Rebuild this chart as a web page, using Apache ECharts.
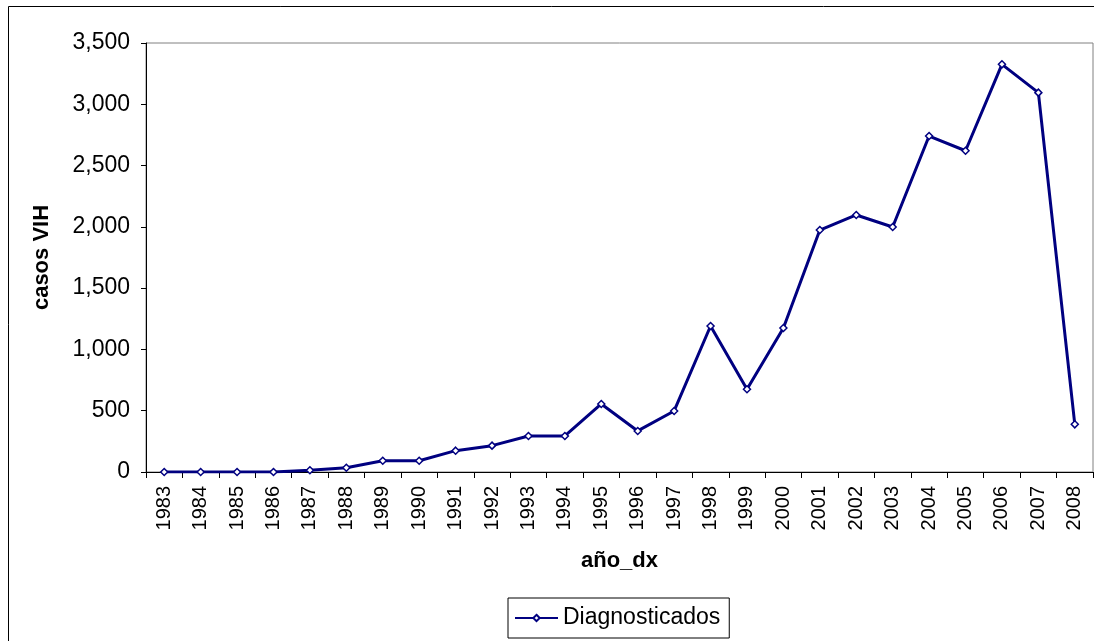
<!DOCTYPE html>
<html>
<head>
<meta charset="utf-8">
<script src="https://cdn.jsdelivr.net/npm/echarts@6/dist/echarts.min.js"></script>
<style>
  html, body { margin: 0; padding: 0; background: #fff; }
</style>
</head>
<body>
<div id="chart" style="width: 1094px; height: 641px;"></div>
<script>
// años de diagnostico
var years = ['1983', '1984', '1985', '1986', '1987', '1988', '1989', '1990', '1991', '1992',
  '1993', '1994', '1995', '1996', '1997', '1998', '1999', '2000', '2001', '2002',
  '2003', '2004', '2005', '2006', '2007', '2008'];
// casos VIH diagnosticados
var diagnosticados = [0, 0, 0, 0, 14, 35, 92, 92, 174, 215,
  294, 294, 555, 335, 498, 1191, 675, 1175, 1974, 2097,
  1999, 2741, 2621, 3326, 3095, 389];

var chart = echarts.init(document.getElementById('chart'));
var font = 'Liberation Sans, Arial, sans-serif';

chart.setOption({
  animation: false,
  backgroundColor: '#fff',
  graphic: [{
    type: 'rect',
    shape: { x: 8.5, y: 6.5, width: 1200, height: 700 },
    style: { fill: 'none', stroke: '#000', lineWidth: 1 },
    silent: true
  }],
  grid: {
    left: 146,
    right: 1,
    top: 43,
    bottom: 169,
    show: true,
    borderColor: '#808080',
    borderWidth: 1
  },
  legend: {
    left: 508,
    top: 598,
    padding: [8, 9, 8, 6],
    borderColor: '#000',
    borderWidth: 1,
    borderRadius: 0,
    itemWidth: 43,
    itemHeight: 8,
    itemGap: 6,
    textStyle: { fontFamily: font, fontSize: 23, lineHeight: 24, color: '#000' },
    data: ['Diagnosticados']
  },
  xAxis: {
    type: 'category',
    data: years,
    boundaryGap: true,
    name: 'año_dx',
    nameLocation: 'middle',
    nameGap: 78,
    nameTextStyle: { fontFamily: font, fontSize: 22, fontWeight: 'bold', color: '#000' },
    axisLine: { lineStyle: { color: '#000', width: 1 } },
    axisTick: { show: true, length: 6, lineStyle: { color: '#000' } },
    axisLabel: {
      rotate: 90,
      interval: 0,
      margin: 14,
      fontFamily: font,
      fontSize: 20,
      color: '#000'
    },
    splitLine: { show: false }
  },
  yAxis: {
    type: 'value',
    min: 0,
    max: 3500,
    interval: 500,
    name: 'casos VIH',
    nameLocation: 'middle',
    nameGap: 93,
    nameTextStyle: { fontFamily: font, fontSize: 22, fontWeight: 'bold', color: '#000' },
    axisLine: { show: true, lineStyle: { color: '#000', width: 1 } },
    axisTick: { show: true, length: 5, lineStyle: { color: '#000' } },
    axisLabel: {
      margin: 16,
      fontFamily: font,
      fontSize: 23,
      color: '#000',
      formatter: function (v) { return v.toLocaleString('en-US'); }
    },
    splitLine: { show: false }
  },
  series: [{
    name: 'Diagnosticados',
    type: 'line',
    data: diagnosticados,
    symbol: 'diamond',
    symbolSize: 7,
    showAllSymbol: true,
    lineStyle: { color: '#000080', width: 3 },
    itemStyle: { color: '#fff', borderColor: '#000080', borderWidth: 1.5 }
  }]
});
</script>
</body>
</html>
